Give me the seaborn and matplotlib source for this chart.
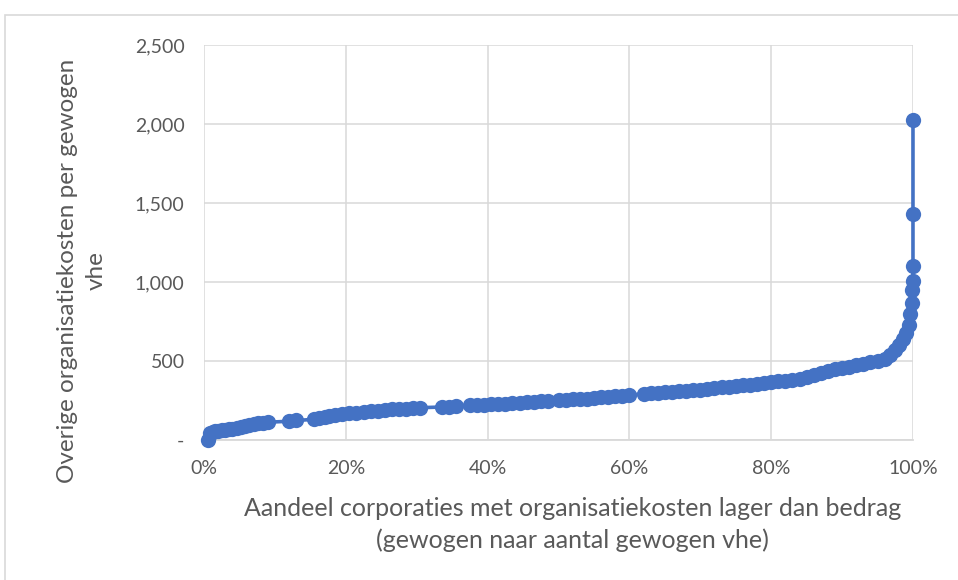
import matplotlib
matplotlib.use("Agg")
import matplotlib.pyplot as plt
import seaborn as sns
import pandas as pd
from matplotlib.patches import Rectangle
from matplotlib.ticker import FuncFormatter, PercentFormatter

# aandeel corporaties (%) en overige organisatiekosten per gewogen vhe
aandeel = [
    0.5, 0.9, 1.2, 1.6, 2.0, 2.5, 3.0, 3.5, 4.0, 4.6, 5.2, 5.8, 6.4, 7.0, 7.6, 8.3, 9.0,
    12.0, 13.0, 15.5, 16.2, 17.0, 17.6, 18.5, 19.5, 20.5, 21.5, 22.5, 23.5, 24.5, 25.5,
    26.5, 27.5, 28.5, 29.5, 30.5, 33.5, 34.5, 35.5, 37.5, 38.5, 39.5, 40.5, 41.5, 42.5,
    43.5, 44.5, 45.5, 46.5, 47.5, 48.5, 50.0, 51.0, 52.0, 53.0, 54.0, 55.0, 56.0, 57.0,
    58.0, 59.0, 60.0, 62.0, 63.0, 64.0, 65.0, 66.0, 67.0, 68.0, 69.0, 70.0, 71.0, 72.0,
    73.0, 74.0, 75.0, 76.0, 77.0, 78.0, 79.0, 80.0, 81.0, 82.0, 83.0, 84.0, 85.0, 86.0,
    87.0, 88.0, 89.0, 90.0, 91.0, 92.0, 93.0, 94.0, 95.0, 96.0, 96.8, 97.4, 98.0, 98.6,
    99.0, 99.4, 99.6, 99.8, 99.9, 99.95, 100.0, 100.0, 100.0,
]
kosten = [
    0, 45, 55, 58, 60, 63, 66, 70, 73, 78, 85, 92, 98, 103, 108, 110, 114,
    120, 125, 132, 140, 148, 155, 160, 165, 170, 175, 180, 184, 188, 192,
    195, 198, 200, 203, 206, 210, 213, 216, 220, 222, 225, 228, 230, 232,
    235, 238, 240, 243, 246, 250, 252, 255, 258, 261, 264, 268, 271, 275,
    278, 282, 288, 292, 296, 300, 303, 306, 309, 313, 317, 321, 325, 330,
    334, 338, 342, 347, 352, 358, 363, 368, 372, 377, 383, 390, 398, 410,
    425, 438, 450, 458, 465, 473, 482, 492, 500, 515, 540, 570, 600, 640,
    680, 730, 800, 870, 950, 1010, 1100, 1430, 2025,
]

df = pd.DataFrame({"aandeel": aandeel, "kosten": kosten})

sns.set_style("white")
plt.rcParams["font.family"] = ["Lato", "DejaVu Sans"]

grijs = "#595959"
fig = plt.figure(figsize=(9.58, 5.8), dpi=100)
ax = fig.add_axes([0.213, 0.241, 0.740, 0.681])

sns.lineplot(data=df, x="aandeel", y="kosten", ax=ax, estimator=None, sort=False,
             color="#4472C4", linewidth=2.6, marker="o", markersize=11,
             markeredgewidth=0, zorder=3, clip_on=False)

ax.set_xlim(0, 100)
ax.set_ylim(0, 2500)
ax.set_xticks(range(0, 101, 20))
ax.set_yticks(range(0, 2501, 500))
ax.xaxis.set_major_formatter(PercentFormatter(decimals=0))
ax.yaxis.set_major_formatter(FuncFormatter(lambda v, p: "-" if v == 0 else f"{int(v):,}"))
ax.grid(True, color="#D9D9D9", linewidth=1.1)
ax.set_axisbelow(True)
for s in ["top", "right", "left"]:
    ax.spines[s].set_visible(False)
ax.spines["bottom"].set_color("#D9D9D9")
ax.spines["bottom"].set_linewidth(1.3)
ax.tick_params(axis="both", length=0, labelsize=14, labelcolor=grijs)
ax.tick_params(axis="x", pad=14)
ax.tick_params(axis="y", pad=14)

ax.set_xlabel("Aandeel corporaties met organisatiekosten lager dan bedrag\n(gewogen naar aantal gewogen vhe)",
              fontsize=18, color=grijs, linespacing=1.45)
ax.set_ylabel("Overige organisatiekosten per gewogen\nvhe", fontsize=17.5, color=grijs,
              linespacing=1.45)
ax.xaxis.set_label_coords(0.52, -0.143)
ax.yaxis.set_label_coords(-0.137, 0.43)

fig.patches.append(Rectangle((5 / 958, -0.1), 1.2, 1 - 15 / 580 + 0.1, transform=fig.transFigure,
                             fill=False, edgecolor="#D9D9D9", linewidth=1.2))

fig.savefig("out.png", dpi=100)
